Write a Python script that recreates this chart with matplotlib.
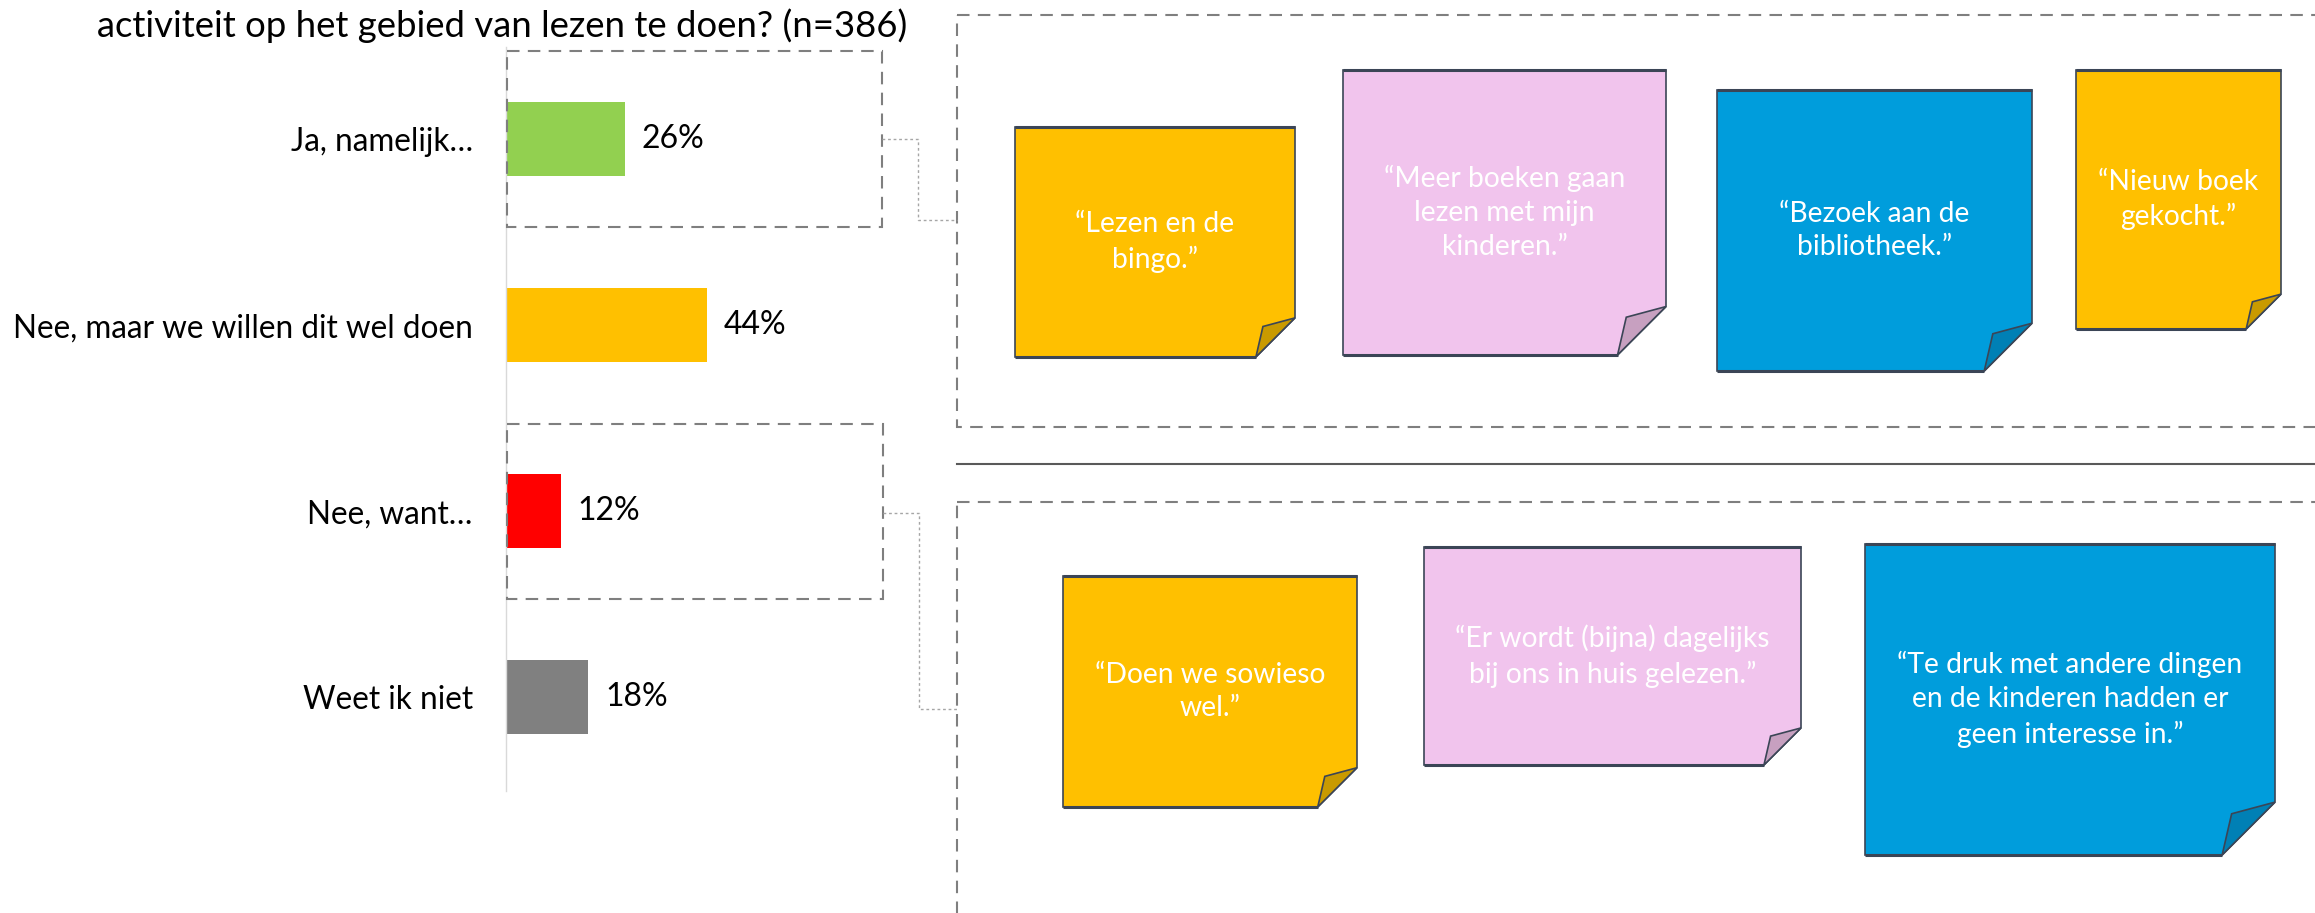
import matplotlib.pyplot as plt
import matplotlib.patches as patches
from matplotlib import font_manager

W, H = 2315, 913

# ---- data ----
categories = ["Ja, namelijk…", "Nee, maar we willen dit wel doen", "Nee, want…", "Weet ik niet"]
percentages = [26, 44, 12, 18]
bar_colors = ["#92d050", "#ffc000", "#ff0000", "#808080"]

title = "activiteit op het gebied van lezen te doen? (n=386)"

quotes_yes = [
    "“Lezen en de\nbingo.”",
    "“Meer boeken gaan\nlezen met mijn\nkinderen.”",
    "“Bezoek aan de\nbibliotheek.”",
    "“Nieuw boek\ngekocht.”",
]
quotes_no = [
    "“Doen we sowieso\nwel.”",
    "“Er wordt (bijna) dagelijks\nbij ons in huis gelezen.”",
    "“Te druk met andere dingen\nen de kinderen hadden er\ngeen interesse in.”",
]

# note boxes in pixels (left, top, right, bottom), plus style
yes_boxes = [(1015, 127, 1295, 357), (1343, 70, 1666, 355), (1717, 90, 2032, 371), (2076, 70, 2281, 329)]
no_boxes = [(1063, 576, 1357, 807), (1424, 547, 1801, 765), (1865, 544, 2275, 855)]
yes_colors = ["orange", "pink", "blue", "orange"]
no_colors = ["orange", "pink", "blue"]
note_fill = {"orange": "#ffc000", "pink": "#f1c4ed", "blue": "#009ddc"}
note_fold = {"orange": "#c99a00", "pink": "#c7a0c0", "blue": "#0080b5"}

available = {f.name for f in font_manager.fontManager.ttflist}
FONT = "Lato" if "Lato" in available else "DejaVu Sans"
plt.rcParams["font.family"] = [FONT, "DejaVu Sans"]

fig = plt.figure(figsize=(W / 100, H / 100), dpi=100)

# ---- bar chart ----
ax_left, ax_top, ax_bottom = 506, 47, 791
px_per_pct = 4.57
xmax = 60
ax = fig.add_axes([ax_left / W, 1 - ax_bottom / H, px_per_pct * xmax / W, (ax_bottom - ax_top) / H])
ax.patch.set_alpha(0)
pos = list(range(len(categories)))
bars = ax.barh(pos, percentages, height=0.40, color=bar_colors)
ax.set_xlim(0, xmax)
ax.set_ylim(3.505, -0.495)
ax.set_yticks(pos)
ax.set_yticklabels(categories, fontsize=22.7)
ax.set_xticks([])
ax.tick_params(axis="y", length=0, pad=24)
for s in ["top", "right", "bottom"]:
    ax.spines[s].set_visible(False)
ax.spines["left"].set_color("#d9d9d9")
ax.spines["left"].set_linewidth(1)
ax.bar_label(bars, labels=[f"{p}%" for p in percentages], padding=12, fontsize=23)

fig.text(502 / W, 1 - 37 / H, title, ha="center", va="baseline", fontsize=26.3)

# ---- overlay in pixel coordinates ----
ov = fig.add_axes([0, 0, 1, 1])
ov.set_xlim(0, W)
ov.set_ylim(H, 0)
ov.axis("off")

dash = dict(fill=False, edgecolor="#7f7f7f", linewidth=1.5, linestyle=(0, (6, 4)))
ov.add_patch(patches.Rectangle((507, 51), 375, 176, **dash))
ov.add_patch(patches.Rectangle((507, 424), 376, 175, **dash))
ov.add_patch(patches.Rectangle((957, 15), 1500, 412, **dash))
ov.add_patch(patches.Rectangle((957, 502), 1500, 500, **dash))

dot = dict(color="#a6a6a6", linewidth=1, linestyle=(0, (2, 2)))
ov.plot([882, 918, 918, 957], [139, 139, 220, 220], **dot)
ov.plot([883, 919, 919, 957], [513, 513, 709, 709], **dot)

ov.plot([957, W], [464, 464], color="#595959", linewidth=1.5)


def draw_note(box, kind, text):
    x0, y0, x1, y1 = box
    f = 0.17 * min(x1 - x0, y1 - y0)
    outline = "#3b4556"
    ov.add_patch(patches.Polygon(
        [(x0, y0), (x1, y0), (x1, y1 - f), (x1 - f, y1), (x0, y1)],
        closed=True, facecolor=note_fill[kind], edgecolor=outline, linewidth=1.2))
    ov.add_patch(patches.Polygon(
        [(x1, y1 - f), (x1 - 0.82 * f, y1 - 0.78 * f), (x1 - f, y1)],
        closed=True, facecolor=note_fold[kind], edgecolor=outline, linewidth=1.2))
    ov.plot([x0, x1], [y0, y0], color=outline, linewidth=2.2, solid_capstyle="butt")
    ov.plot([x0, x1 - f], [y1, y1], color=outline, linewidth=2.2, solid_capstyle="butt")
    ov.text((x0 + x1) / 2, (y0 + y1) / 2, text, ha="center", va="center",
            color="white", fontsize=20.3, linespacing=1.38)


for box, kind, text in zip(yes_boxes, yes_colors, quotes_yes):
    draw_note(box, kind, text)
for box, kind, text in zip(no_boxes, no_colors, quotes_no):
    draw_note(box, kind, text)

fig.savefig("out.png", dpi=100)
